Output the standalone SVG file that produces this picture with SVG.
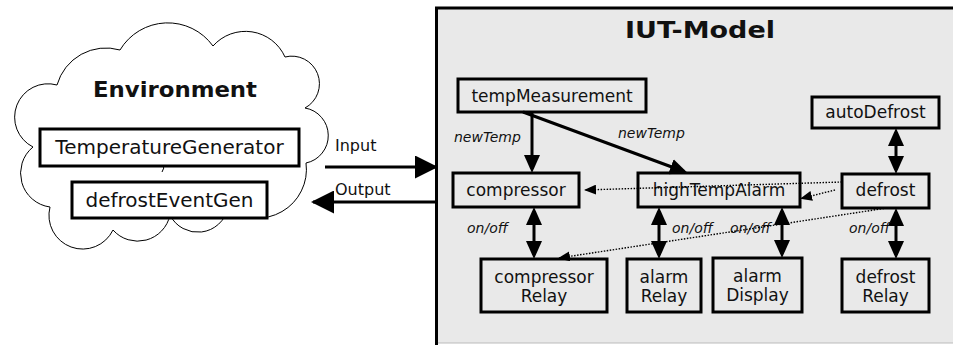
<svg xmlns="http://www.w3.org/2000/svg" width="953" height="345" viewBox="0 0 953 345">
<style>
.t{font-family:"DejaVu Sans",Verdana,sans-serif;fill:#111;text-anchor:middle}
.box{fill:#e9e9e9;stroke:#000;stroke-width:3}
.ebox{fill:#fff;stroke:#000;stroke-width:3}
.lbl{font-family:"DejaVu Sans",Verdana,sans-serif;font-style:italic;font-size:14px;fill:#111}
.sol{stroke:#000;stroke-width:3;fill:none}
.dot{stroke:#000;stroke-width:1.4;stroke-dasharray:1.5 1.5;fill:none}
</style>
<defs>
<marker id="ah" markerUnits="userSpaceOnUse" viewBox="0 0 18 16" refX="14" refY="8" markerWidth="18" markerHeight="16" orient="auto-start-reverse"><path d="M0,0 L18,8 L0,16 z" fill="#000"/></marker>
<marker id="ahs" markerUnits="userSpaceOnUse" viewBox="0 0 12 10" refX="11" refY="5" markerWidth="12" markerHeight="10" orient="auto"><path d="M0,0 L12,5 L0,10 z" fill="#000"/></marker>
<marker id="big" markerUnits="userSpaceOnUse" viewBox="0 0 23 23" refX="21" refY="11.5" markerWidth="23" markerHeight="23" orient="auto"><path d="M0,0 L23,11.5 L0,23 z" fill="#000"/></marker>
</defs>
<rect width="953" height="345" fill="#fff"/>

<g id="iut-model">
<rect x="436" y="8" width="530" height="335" fill="#e9e9e9"/>
<line x1="436" y1="343" x2="953" y2="343" stroke="#bbb" stroke-width="1"/>
<path d="M436.5,345 V8 H953" stroke="#000" stroke-width="3" fill="none"/>
<text class="t" x="700" y="38" font-size="23" font-weight="bold" textLength="150" lengthAdjust="spacingAndGlyphs">IUT-Model</text>
</g>

<g id="environment">
<path d="M33,147 A33.4,33.4 0 0 1 57,85 A50.7,50.7 0 0 1 120,50 A55.7,55.7 0 0 1 213,46 A43.3,43.3 0 0 1 285,57 A27.6,27.6 0 0 1 305,108 A28,28 0 0 1 306,163 A48.75,48.75 0 0 1 228,208 A31,31 0 0 1 170,215 A33,33 0 0 1 113,230 A33.7,33.7 0 0 1 50,207 A34,34 0 0 1 33,147 Z" fill="#fff" stroke="#000" stroke-width="1"/>
<path d="M154,163 Q168,163 162,172" fill="none" stroke="#000" stroke-width="1"/>
<text class="t" x="175" y="97" font-size="21" font-weight="bold" textLength="164" lengthAdjust="spacingAndGlyphs">Environment</text>
</g>

<g id="temperatureGenerator"><rect class="ebox" x="40" y="129" width="259" height="37"/><text class="t" x="169.5" y="154" font-size="20">TemperatureGenerator</text></g>
<g id="defrostEventGen"><rect class="ebox" x="72" y="182" width="195" height="36"/><text class="t" x="169.5" y="207" font-size="20">defrostEventGen</text></g>

<g id="tempMeasurement"><rect class="box" x="458" y="79" width="188" height="33"/><text class="t" x="552" y="102" font-size="17">tempMeasurement</text></g>
<g id="autoDefrost"><rect class="box" x="812" y="97" width="127" height="31"/><text class="t" x="875.5" y="118" font-size="17">autoDefrost</text></g>
<g id="compressor"><rect class="box" x="453" y="173" width="126" height="34"/><text class="t" x="516" y="196" font-size="17">compressor</text></g>
<g id="highTempAlarm"><rect class="box" x="638" y="173" width="162" height="34"/><text class="t" x="719" y="196" font-size="17">highTempAlarm</text></g>
<g id="defrost"><rect class="box" x="842" y="174" width="87" height="34"/><text class="t" x="885.5" y="196" font-size="17">defrost</text></g>
<g id="compressorRelay"><rect class="box" x="481" y="259" width="126" height="53"/><text class="t" x="544" y="283" font-size="17">compressor</text><text class="t" x="544" y="302" font-size="17">Relay</text></g>
<g id="alarmRelay"><rect class="box" x="627" y="259" width="74" height="53"/><text class="t" x="664" y="283" font-size="17">alarm</text><text class="t" x="664" y="302" font-size="17">Relay</text></g>
<g id="alarmDisplay"><rect class="box" x="713" y="258" width="89" height="54"/><text class="t" x="757.5" y="282" font-size="17">alarm</text><text class="t" x="757.5" y="301" font-size="17">Display</text></g>
<g id="defrostRelay"><rect class="box" x="842" y="259" width="87" height="53"/><text class="t" x="885.5" y="283" font-size="17">defrost</text><text class="t" x="885.5" y="302" font-size="17">Relay</text></g>

<g id="connectors">
<line class="sol" x1="325" y1="167" x2="436" y2="167" marker-end="url(#big)"/>
<line class="sol" x1="436" y1="202" x2="313" y2="202" marker-end="url(#big)"/>
<text x="335" y="151" font-family="DejaVu Sans,sans-serif" font-size="16" fill="#111">Input</text>
<text x="335" y="195" font-family="DejaVu Sans,sans-serif" font-size="16" fill="#111">Output</text>

<line class="sol" x1="532" y1="112" x2="532" y2="169" marker-end="url(#ah)"/>
<line class="sol" x1="523" y1="112" x2="684" y2="171.5" marker-end="url(#ah)"/>
<text class="lbl" x="454" y="142">newTemp</text>
<text class="lbl" x="618" y="138">newTemp</text>

<line class="sol" x1="896" y1="132" x2="896" y2="170" marker-start="url(#ah)" marker-end="url(#ah)"/>
<line class="sol" x1="534" y1="211" x2="534" y2="255" marker-start="url(#ah)" marker-end="url(#ah)"/>
<line class="sol" x1="659" y1="211" x2="659" y2="255" marker-start="url(#ah)" marker-end="url(#ah)"/>
<line class="sol" x1="782" y1="211" x2="782" y2="254" marker-start="url(#ah)" marker-end="url(#ah)"/>
<line class="sol" x1="896" y1="212" x2="896" y2="255" marker-start="url(#ah)" marker-end="url(#ah)"/>
<text class="lbl" x="467" y="233">on/off</text>
<text class="lbl" x="672" y="233">on/off</text>
<text class="lbl" x="730" y="233">on/off</text>
<text class="lbl" x="849" y="233">on/off</text>

<line class="dot" x1="842" y1="182" x2="585" y2="190" marker-end="url(#ahs)"/>
<line class="dot" x1="835" y1="190" x2="801" y2="198.5" marker-end="url(#ahs)"/>
<line class="dot" x1="887" y1="208" x2="559" y2="258" marker-end="url(#ahs)"/>
</g>
</svg>
